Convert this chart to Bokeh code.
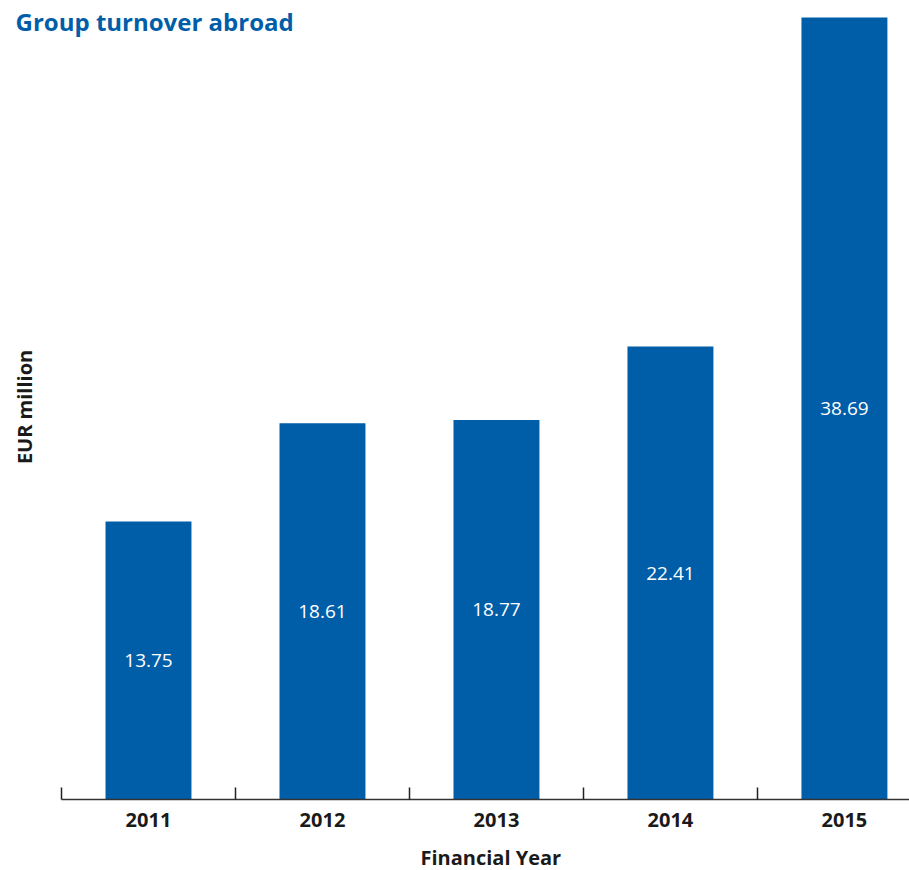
import numpy as np
from bokeh.plotting import figure
from bokeh.models import ColumnDataSource, Range1d, FixedTicker, LinearAxis, Label, Title
from bokeh.core.properties import value
from bokeh.embed import file_html
from bokeh.resources import INLINE

# ---- data ----
title_text = "Group turnover abroad"
years = ["2011", "2012", "2013", "2014", "2015"]
turnover = [13.75, 18.61, 18.77, 22.41, 38.69]
x_label = "Financial Year"
y_label = "EUR million"

BLUE = "#005EA8"
FONT = "Open Sans"
DARK = "#1a1a1a"

n = len(years)
centers = [i + 0.5 for i in range(n)]
src = ColumnDataSource(dict(
    x=centers,
    top=turnover,
    mid=[v / 2 for v in turnover],
    lbl=[f"{v:.2f}" for v in turnover],
))

X_START, X_END = -0.3506, 4.874
Y_END = 39.53

p = figure(width=909, height=870, output_backend="svg", toolbar_location=None,
           x_range=Range1d(X_START, X_END), y_range=Range1d(0, Y_END),
           y_axis_location=None,
           min_border_left=0, min_border_right=0, min_border_top=0, min_border_bottom=0)
p.outline_line_color = None
p.grid.visible = False
p.background_fill_color = "white"
p.border_fill_color = "white"

p.vbar(x="x", top="top", bottom=0, width=0.494, source=src,
       fill_color=BLUE, line_color=None)
p.text(x="x", y="mid", text="lbl", source=src, text_color="white",
       text_font=value(FONT), text_font_size="19px",
       text_align="center", text_baseline="middle")

# x axis 1: line + boundary ticks
xa = p.xaxis[0]
xa.bounds = (0, X_END)
xa.ticker = FixedTicker(ticks=list(range(n + 1)), minor_ticks=[])
xa.axis_line_color = "#333333"
xa.axis_line_width = 1.5
xa.major_tick_line_color = "#222222"
xa.major_tick_line_width = 1.5
xa.major_tick_in = 12
xa.major_tick_out = 0
xa.minor_tick_line_color = None
xa.major_label_text_font_size = "0px"
xa.major_label_standoff = 0

# x axis 2: category labels (blank axis label used only as spacer)
xb = LinearAxis(ticker=FixedTicker(ticks=centers, minor_ticks=[]),
                major_label_overrides={c: y for c, y in zip(centers, years)})
xb.axis_line_color = None
xb.major_tick_line_color = None
xb.minor_tick_line_color = None
xb.major_label_text_font = FONT
xb.major_label_text_font_style = "bold"
xb.major_label_text_font_size = "20px"
xb.major_label_text_color = DARK
xb.major_label_standoff = 7
xb.axis_label = " "
xb.axis_label_text_font_size = "1px"
xb.axis_label_standoff = 8
p.add_layout(xb, "below")

# x-axis title, placed below the category labels
xt = Title(text=x_label, align="left", offset=420, standoff=0,
           text_font=FONT, text_font_style="bold", text_font_size="20px",
           text_color=DARK)
p.add_layout(xt, "below")

# title and y-axis label inside the frame area
title = Label(x=-0.264, y=38.49, text=title_text,
              text_font=FONT, text_font_style="bold", text_font_size="24px",
              text_color=BLUE, text_baseline="alphabetic", text_align="left")
p.add_layout(title)

ylab = Label(x=-0.215, y=19.42, text=y_label, angle=np.pi / 2,
             text_font=FONT, text_font_style="bold", text_font_size="20px",
             text_color=DARK, text_baseline="middle", text_align="center")
p.add_layout(ylab)

open("out.html", "w").write(file_html(p, INLINE))
